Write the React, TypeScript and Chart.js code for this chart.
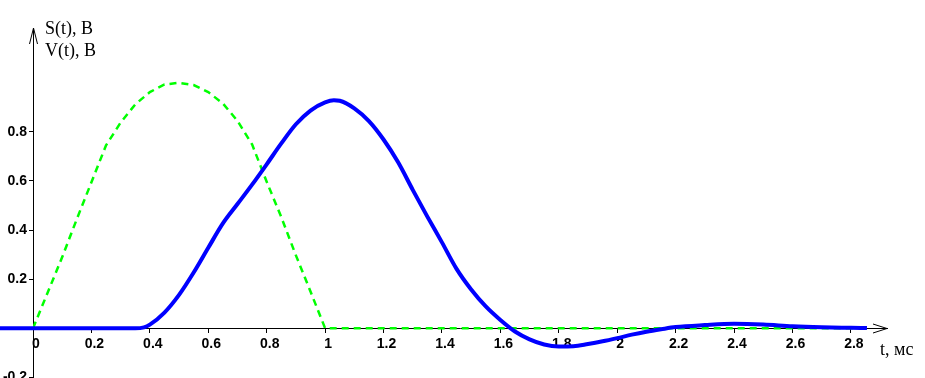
import React, { useEffect, useRef } from "react";
import { Chart, registerables } from "chart.js";

Chart.register(...registerables);

// S(t): green dashed input pulse
const T_S = [0, 0.05, 0.1, 0.15, 0.2, 0.25, 0.3, 0.35, 0.4, 0.45, 0.5, 0.55, 0.6, 0.65, 0.7, 0.75, 0.8, 0.85, 0.9, 0.95, 1.0, 2.855];
const S_VALUES = [0, 0.145, 0.29, 0.445, 0.595, 0.745, 0.838, 0.912, 0.962, 0.993, 1.0, 0.991, 0.962, 0.916, 0.845, 0.749, 0.597, 0.453, 0.297, 0.15, 0, 0];

// V(t): blue solid response
const T_V = [-0.12, 0, 0.35, 0.38, 0.4, 0.45, 0.5, 0.55, 0.6, 0.65, 0.7, 0.75, 0.8, 0.85, 0.9, 0.95, 1.0, 1.03, 1.05, 1.1, 1.15, 1.2, 1.25, 1.3, 1.35, 1.4, 1.45, 1.5, 1.55, 1.6, 1.65, 1.7, 1.75, 1.8, 1.85, 1.9, 1.95, 2.0, 2.05, 2.1, 2.15, 2.2, 2.3, 2.4, 2.5, 2.6, 2.7, 2.8, 2.855];
const V_VALUES = [0, 0, 0, 0.004, 0.015, 0.064, 0.136, 0.227, 0.328, 0.427, 0.506, 0.585, 0.668, 0.753, 0.831, 0.887, 0.92, 0.929, 0.927, 0.896, 0.844, 0.769, 0.676, 0.564, 0.455, 0.35, 0.242, 0.158, 0.089, 0.034, -0.013, -0.045, -0.066, -0.074, -0.073, -0.064, -0.053, -0.04, -0.026, -0.014, -0.004, 0.005, 0.013, 0.018, 0.015, 0.008, 0.004, 0.002, 0.001];

const X_TICKS = [0, 0.2, 0.4, 0.6, 0.8, 1.0, 1.2, 1.4, 1.6, 1.8, 2.0, 2.2, 2.4, 2.6, 2.8];
const Y_TICKS = [-0.2, 0.2, 0.4, 0.6, 0.8];

const X_MIN = 0;
const X_MAX = 2.9236;
const Y_MIN = -0.2025;
const Y_MAX = 1.2232;

const Y_TITLES = ["S(t), В", "V(t), В"];
const X_TITLE = "t, мс";

const TICK_FONT = '"Liberation Sans", Arial, sans-serif';
const TITLE_FONT = '18px "Liberation Serif", "Times New Roman", serif';

const fmt = (v: number | string) => String(+Number(v).toFixed(1));

const axisDecor = {
  id: "axisDecor",
  afterDraw(chart: any) {
    const { ctx, chartArea, scales } = chart;
    const x0 = Math.floor(scales.x.getPixelForValue(0)) + 0.5;
    const y0 = Math.floor(scales.y.getPixelForValue(0)) + 0.5;
    const top = chartArea.top;
    const right = chartArea.right;
    ctx.save();
    ctx.strokeStyle = "#000";
    ctx.lineWidth = 1;
    // x axis continues to the left of the y axis
    ctx.beginPath();
    ctx.moveTo(0, y0);
    ctx.lineTo(x0, y0);
    ctx.stroke();
    ctx.restore();
  },
  afterDraw2: null,
};

const arrowsAndTitles = {
  id: "arrowsAndTitles",
  afterDraw(chart: any) {
    const { ctx, chartArea, scales } = chart;
    const x0 = Math.floor(scales.x.getPixelForValue(0)) + 0.5;
    const y0 = Math.floor(scales.y.getPixelForValue(0)) + 0.5;
    const top = chartArea.top;
    const right = chartArea.right;
    ctx.save();
    ctx.strokeStyle = "#000";
    ctx.lineWidth = 1;
    ctx.beginPath();
    ctx.moveTo(x0 - 4, top + 16);
    ctx.lineTo(x0, top);
    ctx.lineTo(x0 + 4, top + 16);
    ctx.stroke();
    ctx.beginPath();
    ctx.moveTo(right - 14, y0 - 4.5);
    ctx.lineTo(right, y0);
    ctx.lineTo(right - 14, y0 + 4.5);
    ctx.stroke();
    ctx.fillStyle = "#000";
    ctx.font = TITLE_FONT;
    ctx.textAlign = "left";
    ctx.textBaseline = "alphabetic";
    ctx.fillText(Y_TITLES[0], x0 + 11.5, top + 5.5);
    ctx.fillText(Y_TITLES[1], x0 + 11.5, top + 27.5);
    ctx.fillText(X_TITLE, right - 7, y0 + 26);
    ctx.restore();
  },
};

const leftAxisLine = {
  id: "leftAxisLine",
  beforeDatasetsDraw(chart: any) {
    const { ctx, scales } = chart;
    const x0 = Math.floor(scales.x.getPixelForValue(0)) + 0.5;
    const y0 = Math.floor(scales.y.getPixelForValue(0)) + 0.5;
    ctx.save();
    ctx.strokeStyle = "#000";
    ctx.lineWidth = 1;
    ctx.beginPath();
    ctx.moveTo(0, y0);
    ctx.lineTo(x0, y0);
    ctx.stroke();
    ctx.restore();
  },
};

export default function App() {
  const ref = useRef<HTMLCanvasElement>(null);

  useEffect(() => {
    document.body.style.margin = "0";
    const canvas = ref.current;
    if (!canvas) return;
    const chart = new Chart(canvas, {
      type: "line",
      data: {
        datasets: [
          {
            label: "V(t)",
            data: T_V.map((x, i) => ({ x, y: V_VALUES[i] })),
            borderColor: "#0000ff",
            borderWidth: 4,
            pointRadius: 0,
            fill: false,
            clip: false as any,
            cubicInterpolationMode: "monotone",
          },
          {
            label: "S(t)",
            data: T_S.map((x, i) => ({ x, y: S_VALUES[i] })),
            borderColor: "#00ff00",
            borderWidth: 2.5,
            borderDash: [7, 5],
            pointRadius: 0,
            fill: false,
            tension: 0,
          },
        ],
      },
      options: {
        animation: false,
        responsive: false,
        maintainAspectRatio: false,
        layout: { padding: { left: 0, right: 38, top: 28, bottom: 12 } },
        plugins: {
          legend: { display: false },
          tooltip: { enabled: false },
          title: { display: false },
        },
        scales: {
          x: {
            type: "linear",
            min: X_MIN,
            max: X_MAX,
            position: { y: 0 } as any,
            afterBuildTicks: (scale: any) => {
              scale.ticks = X_TICKS.map((value) => ({ value }));
            },
            ticks: {
              autoSkip: false,
              maxRotation: 0,
              minRotation: 0,
              labelOffset: 3,
              padding: 3,
              color: "#000",
              font: { family: TICK_FONT, size: 14, weight: "bold" },
              callback: (v: any) => fmt(v),
            },
            grid: { drawOnChartArea: false, drawTicks: true, tickLength: 4, color: "#000", lineWidth: 1 },
            border: { display: true, color: "#000", width: 1 },
          },
          y: {
            type: "linear",
            min: Y_MIN,
            max: Y_MAX,
            position: "left",
            afterBuildTicks: (scale: any) => {
              scale.ticks = Y_TICKS.map((value) => ({ value }));
            },
            afterFit: (scale: any) => {
              scale.width = 33;
            },
            ticks: {
              autoSkip: false,
              padding: 2,
              color: "#000",
              font: { family: TICK_FONT, size: 14, weight: "bold" },
              callback: (v: any) => fmt(v),
            },
            grid: { drawOnChartArea: false, drawTicks: true, tickLength: 4, color: "#000", lineWidth: 1 },
            border: { display: true, color: "#000", width: 1 },
          },
        },
      },
      plugins: [leftAxisLine, arrowsAndTitles],
    });
    return () => chart.destroy();
  }, []);

  return (
    <div
      style={{
        position: "fixed",
        left: 0,
        top: 0,
        width: 925,
        height: 378,
        overflow: "hidden",
        background: "#fff",
      }}
    >
      <canvas ref={ref} width={925} height={390} style={{ display: "block" }} />
    </div>
  );
}
